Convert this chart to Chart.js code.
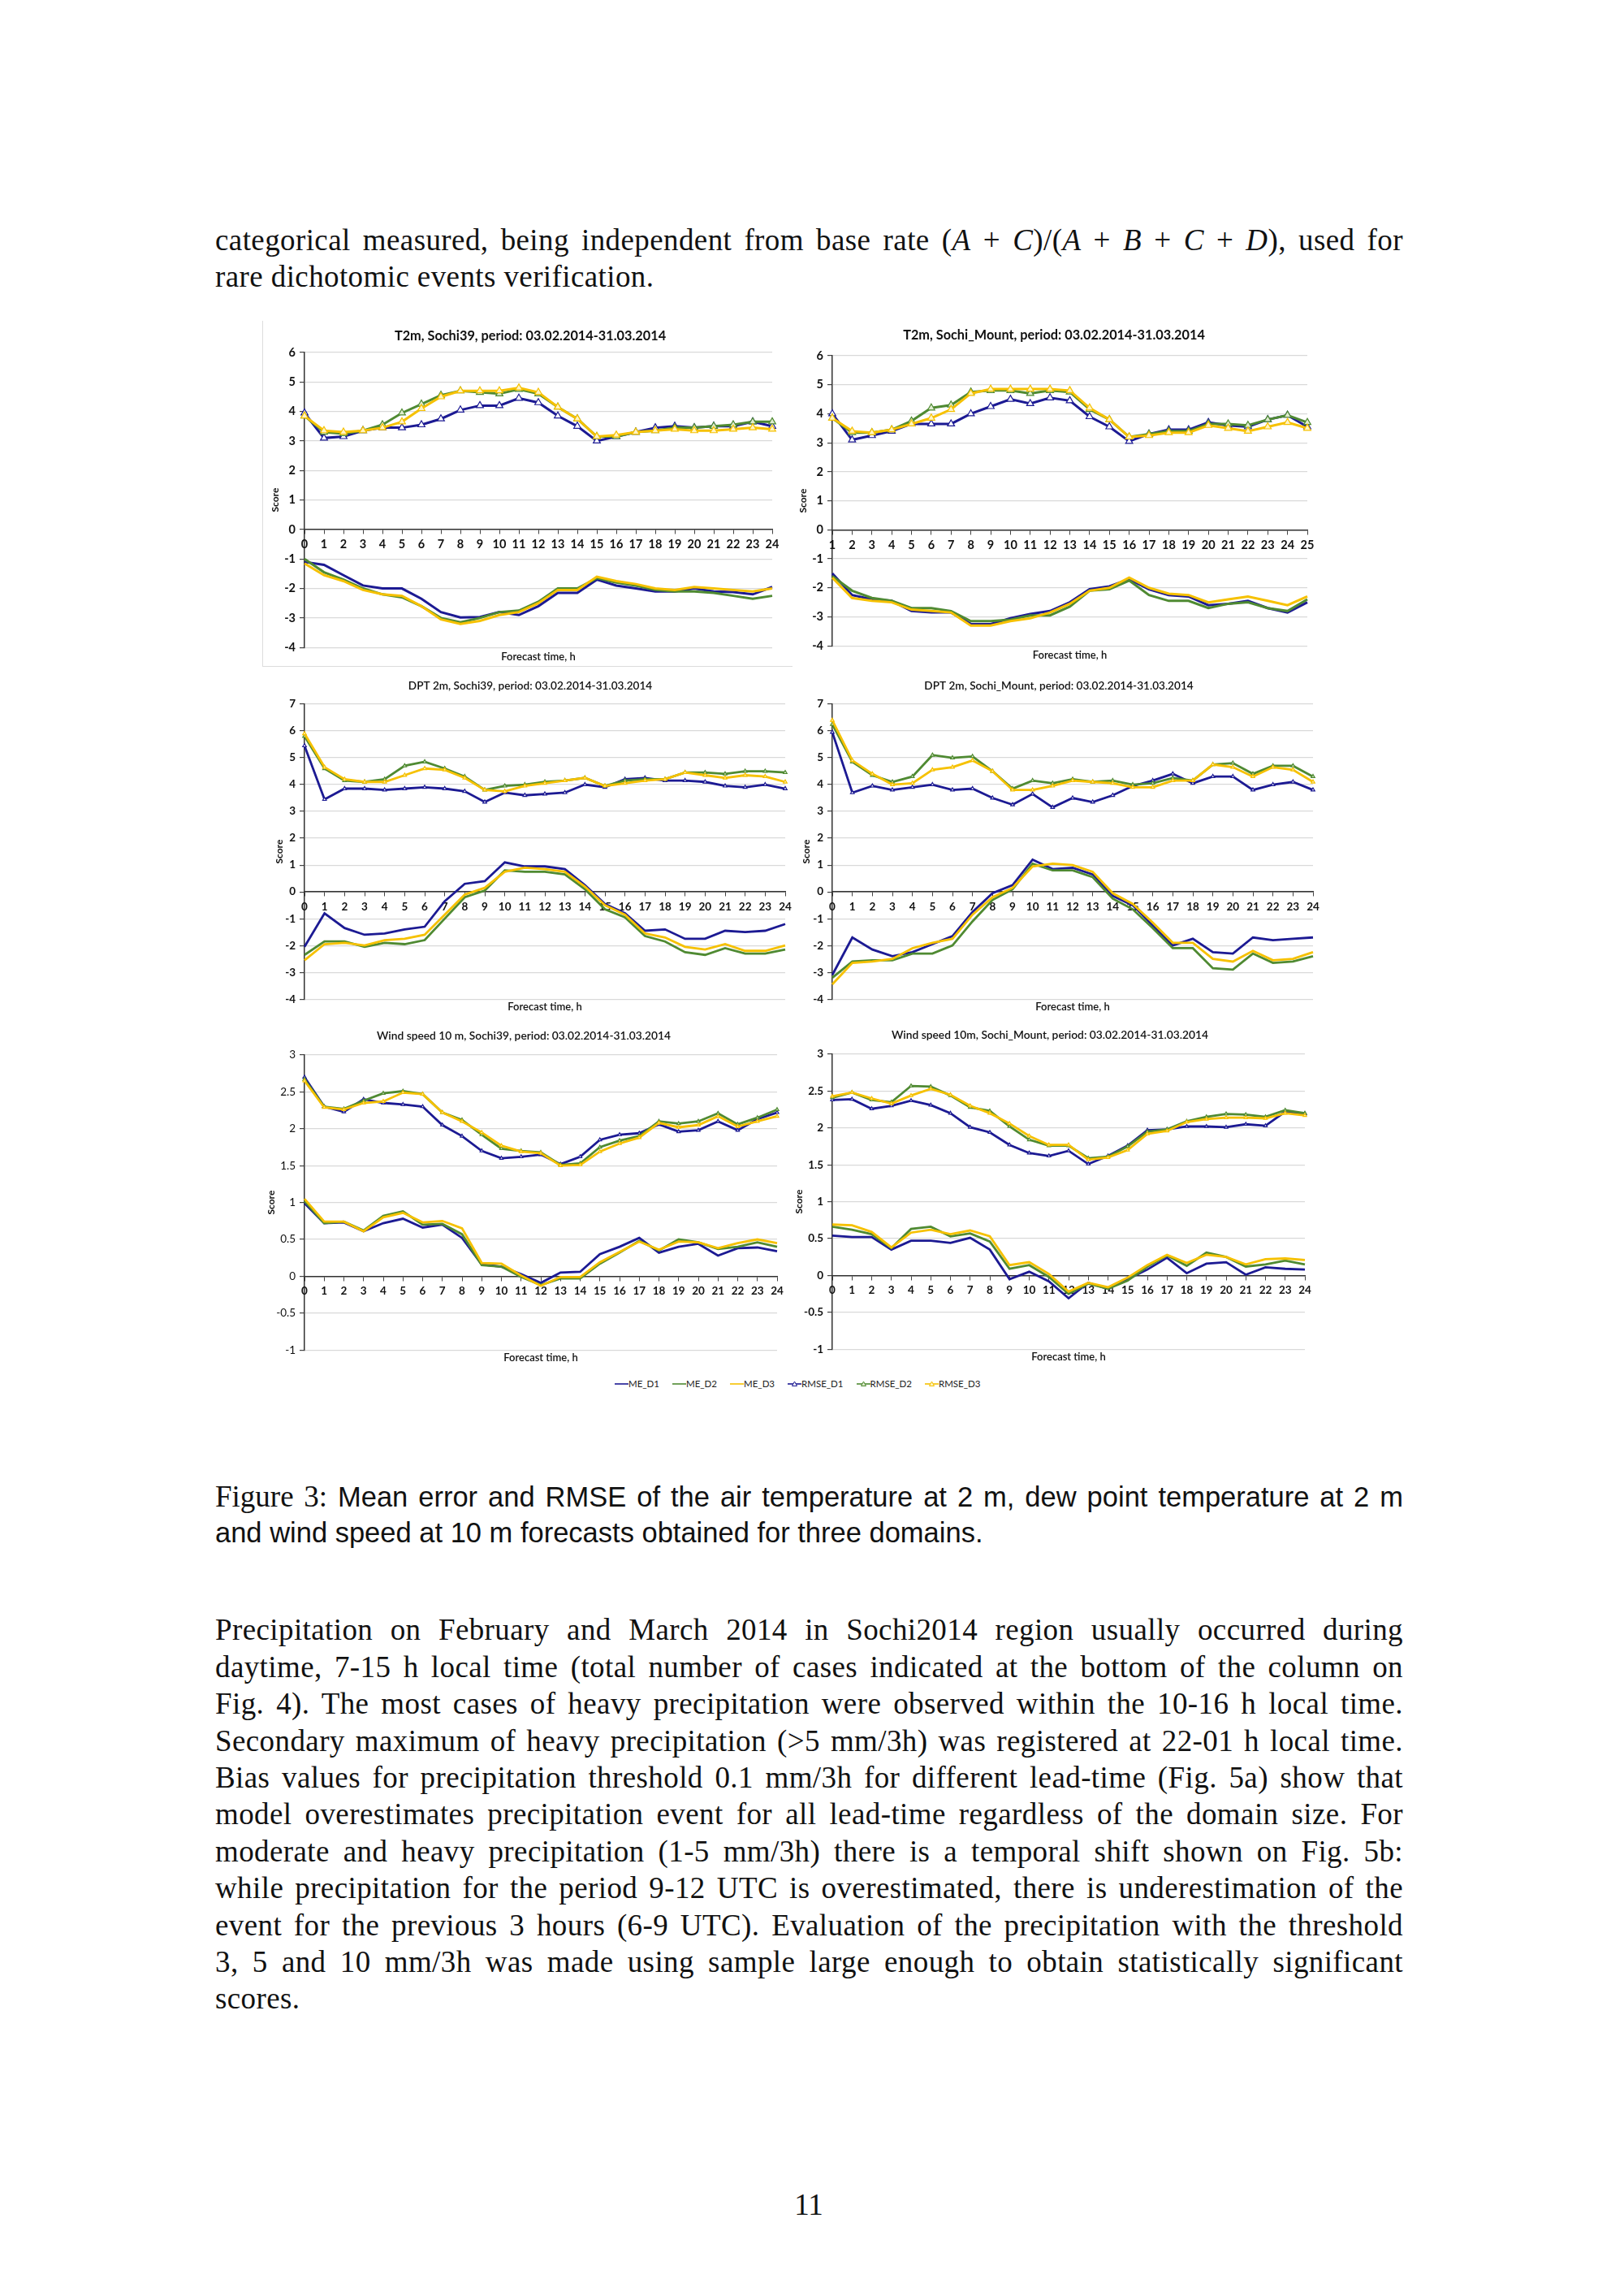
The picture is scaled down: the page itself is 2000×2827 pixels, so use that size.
<!DOCTYPE html>
<html>
<head>
<meta charset="utf-8">
<title>Figure 3 - ME and RMSE, Sochi 2014</title>
<script src="https://cdn.jsdelivr.net/npm/chart.js"></script>
<style>
  body {
    margin: 0;
    width: 2000px;
    height: 2827px;
    position: relative;
    overflow: hidden;
    background: #fff;
    color: #111;
    font-family: 'Liberation Serif', 'Times New Roman', serif;
  }
  .line {
    position: absolute;
    left: 265px;
    width: 1463px;
    height: 45px;
    font-size: 37px;
    line-height: 45px;
    letter-spacing: 0.4px;
    text-align: justify;
    text-align-last: justify;
  }
  .line.last { text-align-last: left; }
  .sans {
    font-family: 'Liberation Sans', Arial, sans-serif;
    font-size: 34.5px;
    letter-spacing: 0;
  }
  .sans .serif { font-family: 'Liberation Serif', serif; font-size: 37px; }
  .page-num {
    position: absolute;
    left: 946px;
    width: 100px;
    top: 2692px;
    text-align: center;
    font-size: 37px;
    line-height: 45px;
  }
  canvas { position: absolute; }
  .frame {
    position: absolute;
    border-left: 1.5px solid #dcdcdc;
    border-bottom: 1.5px solid #dcdcdc;
  }
  #legend {
    position: absolute;
    left: 757px;
    top: 1696px;
    display: flex;
    gap: 16px;
    font-family: Lato, sans-serif;
    font-size: 11.5px;
    line-height: 16px;
    color: #222;
  }
  #legend span { display: inline-flex; align-items: center; }
</style>
</head>
<body>

<div class="line" style="top:273px">categorical measured, being independent from base rate (<i>A</i> + <i>C</i>)/(<i>A</i> + <i>B</i> + <i>C</i> + <i>D</i>), used for</div>
<div class="line last" style="top:318px">rare dichotomic events verification.</div>

<div class="frame" style="left:323px; top:395px; width:652px; height:425px"></div>
<canvas id="c1"></canvas>
<canvas id="c2"></canvas>
<canvas id="c3"></canvas>
<canvas id="c4"></canvas>
<canvas id="c5"></canvas>
<canvas id="c6"></canvas>
<div id="legend"></div>

<div class="line sans" style="top:1820px"><span class="serif">Figure 3:</span> Mean error and RMSE of the air temperature at 2 m, dew point temperature at 2 m</div>
<div class="line sans last" style="top:1865px">and wind speed at 10 m forecasts obtained for three domains.</div>

<div class="line" style="top:1984px">Precipitation on February and March 2014 in Sochi2014 region usually occurred during</div>
<div class="line" style="top:2030px">daytime, 7-15 h local time (total number of cases indicated at the bottom of the column on</div>
<div class="line" style="top:2075px">Fig. 4). The most cases of heavy precipitation were observed within the 10-16 h local time.</div>
<div class="line" style="top:2121px">Secondary maximum of heavy precipitation (&gt;5 mm/3h) was registered at 22-01 h local time.</div>
<div class="line" style="top:2166px">Bias values for precipitation threshold 0.1 mm/3h for different lead-time (Fig. 5a) show that</div>
<div class="line" style="top:2211px">model overestimates precipitation event for all lead-time regardless of the domain size. For</div>
<div class="line" style="top:2257px">moderate and heavy precipitation (1-5 mm/3h) there is a temporal shift shown on Fig. 5b:</div>
<div class="line" style="top:2302px">while precipitation for the period 9-12 UTC is overestimated, there is underestimation of the</div>
<div class="line" style="top:2348px">event for the previous 3 hours (6-9 UTC). Evaluation of the precipitation with the threshold</div>
<div class="line" style="top:2393px">3, 5 and 10 mm/3h was made using sample large enough to obtain statistically significant</div>
<div class="line last" style="top:2438px">scores.</div>

<div class="page-num">11</div>

<script>
  // x tick labels
  const hoursFrom0 = ['0','1','2','3','4','5','6','7','8','9','10','11','12','13','14','15','16','17','18','19','20','21','22','23','24'];
  const hoursFrom1 = ['1','2','3','4','5','6','7','8','9','10','11','12','13','14','15','16','17','18','19','20','21','22','23','24','25'];

  const seriesNames = ['ME_D1', 'ME_D2', 'ME_D3', 'RMSE_D1', 'RMSE_D2', 'RMSE_D3'];

  // T2m, Sochi39
  const t2mS39_meD1 = [-1.10,-1.20,-1.55,-1.90,-2.00,-2.00,-2.35,-2.80,-2.98,-2.97,-2.80,-2.90,-2.60,-2.15,-2.15,-1.70,-1.90,-2.00,-2.10,-2.10,-2.00,-2.10,-2.12,-2.20,-1.95];
  const t2mS39_meD2 = [-1.00,-1.45,-1.70,-2.00,-2.20,-2.30,-2.60,-3.00,-3.15,-3.00,-2.80,-2.75,-2.45,-2.00,-2.00,-1.65,-1.80,-1.90,-2.05,-2.10,-2.10,-2.15,-2.25,-2.35,-2.25];
  const t2mS39_meD3 = [-1.15,-1.55,-1.75,-2.05,-2.20,-2.25,-2.60,-3.05,-3.20,-3.10,-2.90,-2.80,-2.50,-2.05,-2.05,-1.60,-1.75,-1.85,-2.00,-2.05,-1.95,-2.00,-2.05,-2.10,-2.00];
  const t2mS39_rmseD1 = [3.95,3.10,3.15,3.35,3.45,3.45,3.55,3.75,4.05,4.20,4.20,4.45,4.30,3.85,3.50,3.00,3.15,3.30,3.45,3.50,3.45,3.50,3.50,3.65,3.50];
  const t2mS39_rmseD2 = [3.85,3.30,3.25,3.35,3.55,3.95,4.25,4.55,4.70,4.65,4.60,4.75,4.60,4.15,3.75,3.15,3.15,3.30,3.35,3.45,3.45,3.50,3.55,3.65,3.65];
  const t2mS39_rmseD3 = [3.85,3.35,3.30,3.35,3.45,3.65,4.10,4.50,4.70,4.70,4.70,4.80,4.65,4.15,3.75,3.15,3.20,3.30,3.35,3.40,3.35,3.35,3.40,3.45,3.40];

  // T2m, Sochi_Mount
  const t2mMt_meD1 = [-1.50,-2.25,-2.40,-2.45,-2.80,-2.85,-2.85,-3.25,-3.25,-3.05,-2.90,-2.80,-2.50,-2.05,-1.95,-1.70,-2.05,-2.25,-2.30,-2.60,-2.55,-2.45,-2.70,-2.85,-2.50];
  const t2mMt_meD2 = [-1.60,-2.10,-2.35,-2.45,-2.70,-2.70,-2.80,-3.15,-3.15,-3.10,-2.95,-2.95,-2.65,-2.10,-2.05,-1.75,-2.25,-2.45,-2.45,-2.70,-2.55,-2.50,-2.70,-2.80,-2.40];
  const t2mMt_meD3 = [-1.65,-2.35,-2.45,-2.50,-2.75,-2.80,-2.85,-3.30,-3.30,-3.15,-3.05,-2.85,-2.55,-2.10,-2.00,-1.65,-2.00,-2.20,-2.25,-2.50,-2.40,-2.30,-2.45,-2.60,-2.30];
  const t2mMt_rmseD1 = [4.00,3.10,3.25,3.40,3.65,3.65,3.65,4.00,4.25,4.50,4.35,4.55,4.45,3.90,3.55,3.05,3.30,3.45,3.45,3.70,3.60,3.55,3.80,3.95,3.55];
  const t2mMt_rmseD2 = [3.85,3.35,3.35,3.45,3.75,4.20,4.30,4.75,4.80,4.80,4.70,4.80,4.75,4.15,3.80,3.20,3.30,3.40,3.40,3.65,3.65,3.60,3.80,3.95,3.70];
  const t2mMt_rmseD3 = [3.85,3.40,3.35,3.45,3.65,3.85,4.15,4.70,4.85,4.85,4.85,4.85,4.80,4.20,3.80,3.20,3.25,3.35,3.35,3.60,3.50,3.40,3.55,3.70,3.50];

  // DPT 2m, Sochi39
  const dptS39_meD1 = [-2.05,-0.80,-1.35,-1.60,-1.55,-1.40,-1.30,-0.35,0.30,0.40,1.10,0.95,0.95,0.85,0.25,-0.45,-0.80,-1.45,-1.40,-1.75,-1.75,-1.45,-1.50,-1.45,-1.20];
  const dptS39_meD2 = [-2.35,-1.85,-1.85,-2.05,-1.90,-1.95,-1.80,-1.00,-0.20,0.05,0.80,0.75,0.75,0.65,0.10,-0.65,-0.95,-1.65,-1.85,-2.25,-2.35,-2.10,-2.30,-2.30,-2.15];
  const dptS39_meD3 = [-2.55,-1.95,-1.90,-2.00,-1.80,-1.75,-1.60,-0.85,-0.10,0.15,0.75,0.90,0.85,0.75,0.20,-0.50,-0.85,-1.55,-1.70,-2.05,-2.15,-1.95,-2.20,-2.20,-2.00];
  const dptS39_rmseD1 = [5.45,3.45,3.85,3.85,3.80,3.85,3.90,3.85,3.75,3.35,3.70,3.60,3.65,3.70,4.00,3.90,4.20,4.25,4.15,4.15,4.10,3.95,3.90,4.00,3.85];
  const dptS39_rmseD2 = [5.80,4.60,4.15,4.10,4.20,4.70,4.85,4.60,4.30,3.80,3.95,4.00,4.10,4.15,4.25,3.95,4.15,4.20,4.20,4.45,4.45,4.40,4.50,4.50,4.45];
  const dptS39_rmseD3 = [5.90,4.65,4.20,4.10,4.10,4.35,4.60,4.55,4.25,3.80,3.75,3.95,4.05,4.15,4.25,3.95,4.05,4.15,4.20,4.45,4.35,4.25,4.35,4.30,4.10];

  // DPT 2m, Sochi_Mount
  const dptMt_meD1 = [-3.10,-1.70,-2.15,-2.40,-2.25,-1.95,-1.65,-0.75,-0.05,0.25,1.20,0.85,0.90,0.65,-0.15,-0.50,-1.25,-2.00,-1.75,-2.25,-2.30,-1.70,-1.80,-1.75,-1.70];
  const dptMt_meD2 = [-3.20,-2.60,-2.55,-2.55,-2.30,-2.30,-2.00,-1.10,-0.30,0.10,1.05,0.80,0.80,0.55,-0.25,-0.65,-1.35,-2.10,-2.10,-2.85,-2.90,-2.30,-2.65,-2.60,-2.40];
  const dptMt_meD3 = [-3.45,-2.65,-2.60,-2.50,-2.10,-1.90,-1.75,-0.85,-0.20,0.15,0.95,1.05,1.00,0.75,-0.05,-0.45,-1.15,-1.90,-1.90,-2.50,-2.60,-2.20,-2.55,-2.50,-2.25];
  const dptMt_rmseD1 = [5.95,3.70,3.95,3.80,3.90,4.00,3.80,3.85,3.50,3.25,3.65,3.15,3.50,3.35,3.60,3.95,4.15,4.40,4.05,4.30,4.30,3.80,4.00,4.10,3.80];
  const dptMt_rmseD2 = [6.25,4.85,4.35,4.10,4.30,5.10,5.00,5.05,4.50,3.85,4.15,4.05,4.20,4.10,4.15,4.00,4.05,4.25,4.15,4.75,4.80,4.40,4.70,4.70,4.30];
  const dptMt_rmseD3 = [6.40,4.90,4.40,4.00,4.05,4.55,4.65,4.90,4.50,3.80,3.80,3.95,4.15,4.10,4.05,3.90,3.90,4.15,4.15,4.75,4.65,4.30,4.65,4.55,4.10];

  // Wind speed 10 m, Sochi39
  const wsS39_meD1 = [0.99,0.72,0.73,0.61,0.72,0.78,0.66,0.70,0.52,0.16,0.13,0.03,-0.09,0.05,0.06,0.30,0.40,0.52,0.32,0.40,0.44,0.28,0.38,0.39,0.34];
  const wsS39_meD2 = [1.02,0.72,0.74,0.62,0.82,0.88,0.70,0.71,0.57,0.15,0.13,-0.01,-0.12,-0.03,-0.03,0.17,0.32,0.48,0.35,0.50,0.46,0.37,0.40,0.46,0.40];
  const wsS39_meD3 = [1.05,0.74,0.74,0.61,0.80,0.86,0.73,0.75,0.65,0.18,0.17,0.01,-0.13,-0.01,-0.01,0.19,0.33,0.47,0.36,0.47,0.46,0.38,0.45,0.50,0.45];
  const wsS39_rmseD1 = [2.70,2.30,2.23,2.40,2.35,2.33,2.30,2.05,1.90,1.70,1.60,1.62,1.65,1.52,1.62,1.85,1.92,1.94,2.06,1.96,1.98,2.10,1.98,2.13,2.22];
  const wsS39_rmseD2 = [2.67,2.30,2.27,2.38,2.48,2.51,2.47,2.22,2.12,1.92,1.73,1.70,1.68,1.51,1.53,1.75,1.84,1.90,2.10,2.07,2.10,2.21,2.06,2.15,2.26];
  const wsS39_rmseD3 = [2.65,2.29,2.26,2.35,2.37,2.49,2.47,2.22,2.10,1.95,1.77,1.69,1.67,1.50,1.51,1.69,1.80,1.88,2.08,2.02,2.05,2.17,2.03,2.10,2.17];

  // Wind speed 10m, Sochi_Mount
  const wsMt_meD1 = [0.54,0.52,0.52,0.35,0.47,0.47,0.44,0.51,0.35,-0.05,0.05,-0.08,-0.31,-0.10,-0.18,-0.05,0.08,0.24,0.03,0.16,0.18,0.01,0.11,0.09,0.08];
  const wsMt_meD2 = [0.66,0.62,0.56,0.37,0.63,0.66,0.53,0.57,0.46,0.09,0.14,-0.02,-0.25,-0.11,-0.18,-0.07,0.12,0.27,0.13,0.31,0.25,0.12,0.15,0.20,0.15];
  const wsMt_meD3 = [0.69,0.68,0.59,0.38,0.58,0.62,0.56,0.61,0.53,0.14,0.18,0.02,-0.22,-0.10,-0.16,-0.03,0.14,0.28,0.17,0.28,0.25,0.15,0.22,0.23,0.21];
  const wsMt_rmseD1 = [2.38,2.39,2.26,2.30,2.37,2.31,2.20,2.01,1.94,1.77,1.66,1.62,1.69,1.51,1.62,1.76,1.97,1.98,2.02,2.02,2.01,2.05,2.03,2.22,2.19];
  const wsMt_rmseD2 = [2.41,2.48,2.38,2.35,2.57,2.56,2.44,2.28,2.23,2.02,1.84,1.76,1.76,1.59,1.61,1.75,1.95,1.98,2.09,2.15,2.19,2.18,2.15,2.24,2.20];
  const wsMt_rmseD3 = [2.43,2.48,2.40,2.33,2.44,2.53,2.45,2.30,2.20,2.06,1.89,1.77,1.77,1.57,1.60,1.70,1.92,1.96,2.08,2.12,2.14,2.14,2.13,2.20,2.17];

  const lineColors = ['#1c1a93', '#4f8a32', '#f6c100'];
  const markerFill = ['#ffffff', '#dfeccf', '#fff4c6'];

  // where each panel sits on the page (plot area edges, title / axis title centres)
  const panels = [
    { id: 'c1', title: 'T2m, Sochi39, period: 03.02.2014-31.03.2014', labels: hoursFrom0,
      series: [t2mS39_meD1, t2mS39_meD2, t2mS39_meD3, t2mS39_rmseD1, t2mS39_rmseD2, t2mS39_rmseD3],
      yMin: -4, yMax: 6, step: 1,
      plotL: 375, plotR: 951, plotT: 434, plotB: 797, titleX: 653, titleY: 414, subY: 809, scoreX: 339,
      titleSize: 16.3, titleWeight: 'bold', tickSize: 14.5, yTickWeight: 'bold', marker: 5, lineW: 3 },
    { id: 'c2', title: 'T2m, Sochi_Mount, period: 03.02.2014-31.03.2014', labels: hoursFrom1,
      series: [t2mMt_meD1, t2mMt_meD2, t2mMt_meD3, t2mMt_rmseD1, t2mMt_rmseD2, t2mMt_rmseD3],
      yMin: -4, yMax: 6, step: 1,
      plotL: 1025, plotR: 1610, plotT: 438, plotB: 795, titleX: 1298, titleY: 413, subY: 807, scoreX: 989,
      titleSize: 16.3, titleWeight: 'bold', tickSize: 14.5, yTickWeight: 'bold', marker: 5, lineW: 3 },
    { id: 'c3', title: 'DPT 2m, Sochi39, period: 03.02.2014-31.03.2014', labels: hoursFrom0,
      series: [dptS39_meD1, dptS39_meD2, dptS39_meD3, dptS39_rmseD1, dptS39_rmseD2, dptS39_rmseD3],
      yMin: -4, yMax: 7, step: 1,
      plotL: 375, plotR: 967, plotT: 867, plotB: 1230, titleX: 653, titleY: 845, subY: 1240, scoreX: 344,
      titleSize: 13.6, titleWeight: '600', tickSize: 13.5, yTickWeight: 'bold', marker: 2.6, lineW: 2.8 },
    { id: 'c4', title: 'DPT 2m, Sochi_Mount, period: 03.02.2014-31.03.2014', labels: hoursFrom0,
      series: [dptMt_meD1, dptMt_meD2, dptMt_meD3, dptMt_rmseD1, dptMt_rmseD2, dptMt_rmseD3],
      yMin: -4, yMax: 7, step: 1,
      plotL: 1025, plotR: 1617, plotT: 867, plotB: 1230, titleX: 1304, titleY: 845, subY: 1240, scoreX: 993,
      titleSize: 13.6, titleWeight: '600', tickSize: 13.5, yTickWeight: 'bold', marker: 2.6, lineW: 2.8 },
    { id: 'c5', title: 'Wind speed 10 m, Sochi39, period: 03.02.2014-31.03.2014', labels: hoursFrom0,
      series: [wsS39_meD1, wsS39_meD2, wsS39_meD3, wsS39_rmseD1, wsS39_rmseD2, wsS39_rmseD3],
      yMin: -1, yMax: 3, step: 0.5,
      plotL: 375, plotR: 957, plotT: 1299, plotB: 1662, titleX: 645, titleY: 1276, subY: 1672, scoreX: 334,
      titleSize: 13.8, titleWeight: '600', tickSize: 13.5, yTickWeight: 'normal', marker: 2.4, lineW: 2.8 },
    { id: 'c6', title: 'Wind speed 10m, Sochi_Mount, period: 03.02.2014-31.03.2014', labels: hoursFrom0,
      series: [wsMt_meD1, wsMt_meD2, wsMt_meD3, wsMt_rmseD1, wsMt_rmseD2, wsMt_rmseD3],
      yMin: -1, yMax: 3, step: 0.5,
      plotL: 1025, plotR: 1607, plotT: 1298, plotB: 1661, titleX: 1293, titleY: 1275, subY: 1671, scoreX: 984,
      titleSize: 13.8, titleWeight: '600', tickSize: 13.5, yTickWeight: 'bold', marker: 2.4, lineW: 2.8 }
  ];

  const FONT = 'Lato, "Open Sans", sans-serif';
  const AXIS_W = 46;   // width of the left (Score) axis box

  function makeChart(p) {
    const left = p.plotL - 62;
    const top = p.plotT - 46;
    const padR = 22;
    const width = p.plotR + padR - left;
    const padL = (p.plotL - AXIS_W) - left;
    // empty right-hand box so the full-width title lands where the original one is
    const extraR = Math.max(0, 2 * p.titleX - (p.plotL - AXIS_W) - p.plotR);

    const tLH = p.titleSize * 1.2;
    const tPadTop = (p.titleY - top) - tLH / 2;
    const tPadBottom = (p.plotT - top) - tPadTop - tLH;

    const sLH = 13 * 1.2;
    const sPadTop = p.subY - p.plotB - sLH / 2;
    const sPadBottom = 10;
    const height = Math.round(p.plotB - top + sPadTop + sLH + sPadBottom);

    const scoreLH = 12 * 1.2;
    const scorePad = p.scoreX - (p.plotL - AXIS_W) - scoreLH / 2;

    const canvas = document.getElementById(p.id);
    canvas.width = width + extraR;
    canvas.height = height;
    canvas.style.left = left + 'px';
    canvas.style.top = top + 'px';
    canvas.style.width = (width + extraR) + 'px';
    canvas.style.height = height + 'px';

    const datasets = p.series.map((values, i) => {
      const k = i % 3;
      const isRmse = i >= 3;
      return {
        label: seriesNames[i],
        data: values,
        yAxisID: 'y',
        borderColor: lineColors[k],
        backgroundColor: lineColors[k],
        borderWidth: p.lineW,
        tension: 0,
        fill: false,
        order: 6 - i,
        pointStyle: 'triangle',
        pointRadius: isRmse ? p.marker : 0,
        pointHoverRadius: isRmse ? p.marker : 0,
        pointBorderWidth: 1.2,
        pointBorderColor: lineColors[k],
        pointBackgroundColor: markerFill[k]
      };
    });

    return new Chart(canvas.getContext('2d'), {
      type: 'line',
      data: { labels: p.labels, datasets: datasets },
      options: {
        responsive: false,
        animation: false,
        devicePixelRatio: 1,
        layout: { padding: { left: padL, right: padR, top: 0, bottom: 0 } },
        plugins: {
          legend: { display: false },
          tooltip: { enabled: false },
          title: {
            display: true,
            text: p.title,
            color: '#111',
            fullSize: true,
            font: { family: FONT, size: p.titleSize, weight: p.titleWeight, lineHeight: 1.2 },
            padding: { top: tPadTop, bottom: tPadBottom }
          },
          subtitle: {
            display: true,
            position: 'bottom',
            text: 'Forecast time, h',
            color: '#111',
            fullSize: false,
            font: { family: FONT, size: 13, weight: '600', lineHeight: 1.2 },
            padding: { top: sPadTop, bottom: sPadBottom }
          }
        },
        scales: {
          y: {
            min: p.yMin,
            max: p.yMax,
            afterFit: (scale) => { scale.width = AXIS_W; },
            ticks: {
              stepSize: p.step,
              color: '#111',
              padding: 5,
              font: { family: FONT, size: p.tickSize, weight: p.yTickWeight },
              callback: (value) => String(value)
            },
            grid: { color: '#d9d9d9', lineWidth: 1.2, tickLength: 6, tickColor: '#444' },
            border: { color: '#333', width: 1.5 },
            title: {
              display: true,
              text: 'Score',
              color: '#111',
              font: { family: FONT, size: 12, weight: 'bold', lineHeight: 1.2 },
              padding: { top: scorePad, bottom: 0 }
            }
          },
          x: {
            type: 'category',
            position: { y: 0 },
            offset: false,
            grid: { drawOnChartArea: false, drawTicks: true, tickLength: 5, color: '#444', tickColor: '#444' },
            border: { color: '#333', width: 1.5 },
            ticks: {
              autoSkip: false,
              maxRotation: 0,
              color: '#111',
              padding: 5,
              font: { family: FONT, size: p.tickSize, weight: 'bold' }
            }
          },
          spacer: {
            axis: 'y',
            position: 'right',
            afterFit: (scale) => { scale.width = extraR; },
            ticks: { display: false },
            grid: { display: false, drawTicks: false },
            border: { display: false }
          }
        }
      }
    });
  }

  panels.forEach(makeChart);

  // shared legend under the six panels
  const legend = document.getElementById('legend');
  seriesNames.forEach((name, i) => {
    const k = i % 3;
    const marker = i >= 3
      ? '<polygon points="8.5,1 11.5,6.5 5.5,6.5" fill="' + markerFill[k] + '" stroke="' + lineColors[k] + '" stroke-width="1"/>'
      : '';
    const item = document.createElement('span');
    item.innerHTML = '<svg width="17" height="8"><line x1="0" y1="4" x2="17" y2="4" stroke="' + lineColors[k] +
      '" stroke-width="1.6"/>' + marker + '</svg>' + name;
    legend.appendChild(item);
  });
</script>
</body>
</html>
